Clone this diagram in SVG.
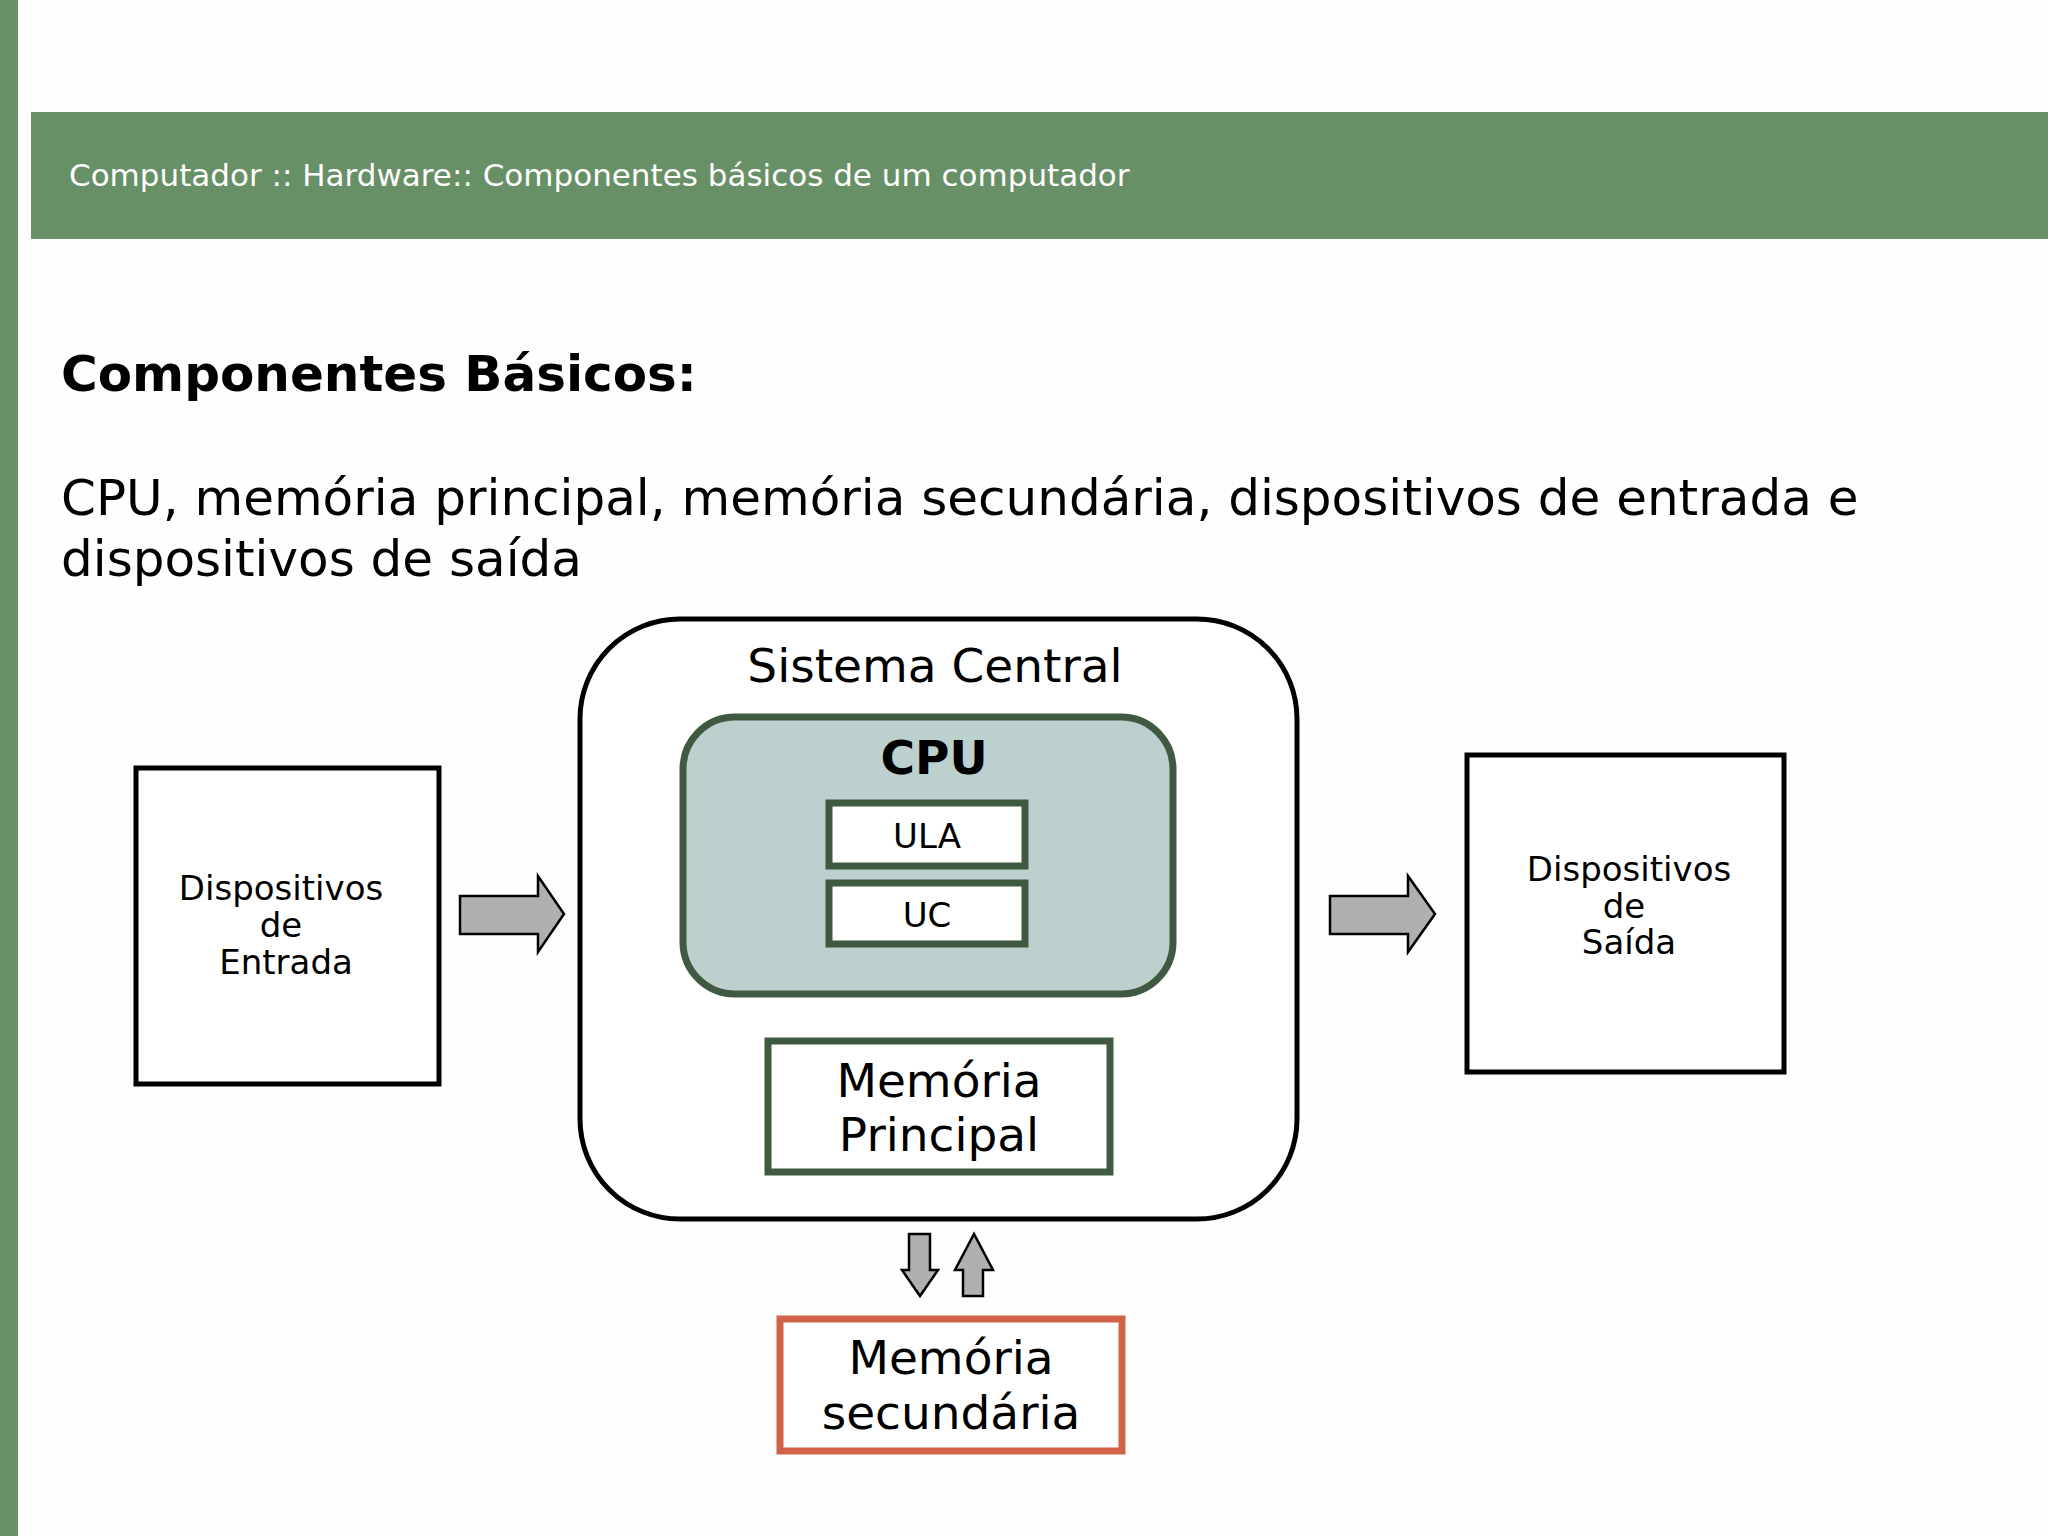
<svg xmlns="http://www.w3.org/2000/svg" width="2048" height="1536" viewBox="0 0 2048 1536">
<style>
text{font-family:"DejaVu Sans","Liberation Sans",sans-serif;fill:#000}
.c{text-anchor:middle}
.box{fill:#fff;stroke:#000;stroke-width:5}
.g{fill:#fff;stroke:#3f5a40;stroke-width:7}
.arr{fill:#b0b0b0;stroke:#000;stroke-width:2.5;stroke-linejoin:miter}
</style>
<rect width="2048" height="1536" fill="#fefefc"/>
<rect x="0" y="0" width="18" height="1536" fill="#679066"/>
<rect x="31" y="112" width="2017" height="127" fill="#679066"/>
<text x="69" y="186" font-size="31" style="fill:#fff">Computador :: Hardware:: Componentes básicos de um computador</text>
<text x="61" y="391" font-size="50" font-weight="bold">Componentes Básicos:</text>
<text x="61" y="515" font-size="50">CPU, memória principal, memória secundária, dispositivos de entrada e</text>
<text x="61" y="576" font-size="50">dispositivos de saída</text>
<g id="sistema"><rect x="580" y="619" width="717" height="600" rx="100" class="box"/>
<text x="935" y="682" font-size="47" class="c">Sistema Central</text></g>
<g id="cpu"><rect x="683" y="717" width="490" height="277" rx="52" fill="#bcd0ce" stroke="#3f5a40" stroke-width="7"/>
<text x="934" y="774" font-size="47" font-weight="bold" class="c">CPU</text></g>
<g id="ula"><rect x="829" y="803" width="196" height="63" class="g"/><text x="927" y="848" font-size="34" class="c">ULA</text></g>
<g id="uc"><rect x="829" y="883" width="196" height="61" class="g"/><text x="927" y="927" font-size="34" class="c">UC</text></g>
<g id="memp"><rect x="768" y="1041" width="342" height="131" class="g"/>
<text x="939" y="1097" font-size="47" class="c">Memória</text><text x="939" y="1151" font-size="47" class="c">Principal</text></g>
<g id="entrada"><rect x="136" y="768" width="303" height="316" class="box"/>
<text x="281" y="900" font-size="34" class="c">Dispositivos</text><text x="281" y="937" font-size="34" class="c">de</text><text x="286" y="974" font-size="34" class="c">Entrada</text></g>
<g id="saida"><rect x="1467" y="755" width="317" height="317" class="box"/>
<text x="1629" y="881" font-size="34" class="c">Dispositivos</text><text x="1624" y="918" font-size="34" class="c">de</text><text x="1629" y="954" font-size="34" class="c">Saída</text></g>
<g id="mems"><rect x="780" y="1319" width="342" height="132" fill="#fff" stroke="#d0624a" stroke-width="7"/>
<text x="951" y="1374" font-size="47" class="c">Memória</text><text x="951" y="1429" font-size="47" class="c">secundária</text></g>
<g id="connectors">
<polygon class="arr" points="460,896 538,896 538,876 564,914 538,952 538,934 460,934"/>
<polygon class="arr" points="1330,896 1408,896 1408,876 1435,914 1408,952 1408,934 1330,934"/>
<polygon class="arr" points="909,1234 930,1234 930,1270 938,1270 920,1296 902,1270 909,1270"/>
<polygon class="arr" points="963,1296 983,1296 983,1270 993,1270 974,1234 955,1270 963,1270"/>
</g>
</svg>
